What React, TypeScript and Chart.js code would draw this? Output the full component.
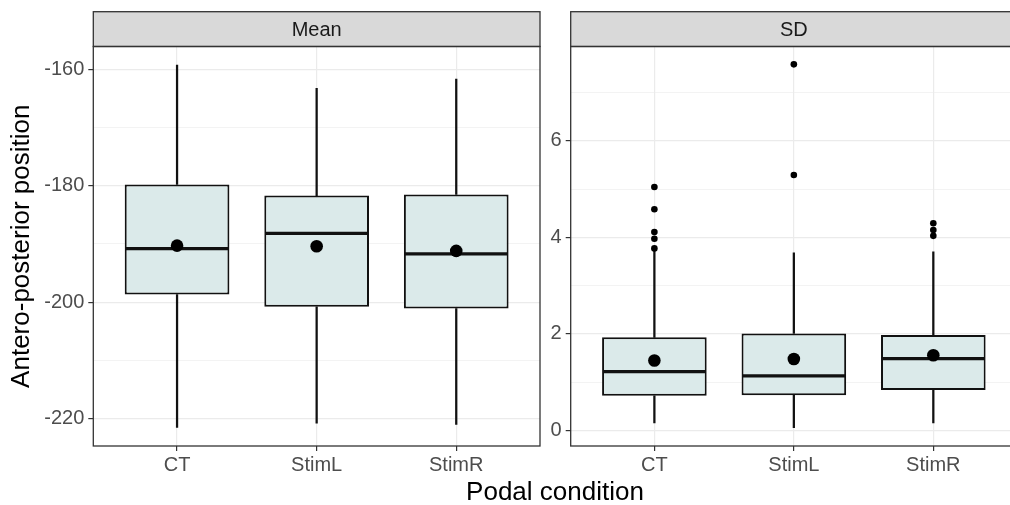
import React, { useEffect, useRef } from 'react';
import { Chart, registerables } from 'chart.js';

Chart.register(...registerables);

const FONT = "'Liberation Sans', Arial, Helvetica, sans-serif";

// ---------------- data ----------------
const categories = ['CT', 'StimL', 'StimR'];

// Facet "Mean"
const meanLowerWhisker = [-221.5, -220.8, -221.0];
const meanQ1 = [-198.7, -200.8, -201.1];
const meanMedian = [-190.8, -188.2, -191.7];
const meanQ3 = [-179.8, -181.7, -181.5];
const meanUpperWhisker = [-159.3, -163.3, -161.7];
const meanAverage = [-190.3, -190.4, -191.2];
const meanOutliers: number[][] = [[], [], []];
const meanMajorTicks = [-220, -200, -180, -160];
const meanMinorTicks = [-210, -190, -170];
const meanYRange = [-224.7, -156.1];

// Facet "SD"
const sdLowerWhisker = [0.16, 0.06, 0.16];
const sdQ1 = [0.72, 0.73, 0.84];
const sdMedian = [1.22, 1.13, 1.49];
const sdQ3 = [1.93, 2.01, 1.98];
const sdUpperWhisker = [3.74, 3.68, 3.7];
const sdAverage = [1.45, 1.48, 1.56];
const sdOutliers: number[][] = [
  [3.77, 3.97, 4.11, 4.58, 5.04],
  [5.29, 7.58],
  [4.03, 4.15, 4.29],
];
const sdMajorTicks = [0, 2, 4, 6];
const sdMinorTicks = [1, 3, 5, 7];
const sdYRange = [-0.32, 7.95];

const xRange = [-0.6, 2.6];
const BOX_WIDTH = 0.75;

const yTitle = 'Antero-posterior position';
const xTitle = 'Podal condition';

// ---------------- styling / layout ----------------
const BOX_FILL = '#DBEAEA';
const LINE = '#111111';
const GRID = '#EBEBEB';
const FRAME = '#333333';
const TICK_TEXT = '#4D4D4D';
const STRIP_TOP = 11.7;
const PANEL_TOP = 46.5;
const PANEL_BOTTOM = 446;
const CANVAS_H = 505;

interface Panel {
  label: string;
  lower: number[];
  q1: number[];
  median: number[];
  q3: number[];
  upper: number[];
  avg: number[];
  outliers: number[][];
  major: number[];
  minor: number[];
  yRange: number[];
  showTitle: boolean;
}

const panels: Panel[] = [
  {
    label: 'Mean', lower: meanLowerWhisker, q1: meanQ1, median: meanMedian, q3: meanQ3,
    upper: meanUpperWhisker, avg: meanAverage, outliers: meanOutliers,
    major: meanMajorTicks, minor: meanMinorTicks, yRange: meanYRange, showTitle: true,
  },
  {
    label: 'SD', lower: sdLowerWhisker, q1: sdQ1, median: sdMedian, q3: sdQ3,
    upper: sdUpperWhisker, avg: sdAverage, outliers: sdOutliers,
    major: sdMajorTicks, minor: sdMinorTicks, yRange: sdYRange, showTitle: false,
  },
];

const placements = [
  { left: 0, width: 552, yAxisWidth: 93.3, rightPad: 12 },
  { left: 540, width: 500, yAxisWidth: 30.7, rightPad: 23 },
];

function facetPlugin(label: string) {
  return {
    id: 'facet_' + label,
    afterDraw(chart: any) {
      const { ctx, chartArea: a } = chart;
      ctx.save();
      ctx.fillStyle = '#D9D9D9';
      ctx.fillRect(a.left, STRIP_TOP, a.right - a.left, a.top - STRIP_TOP);
      ctx.strokeStyle = FRAME;
      ctx.lineWidth = 1.3;
      ctx.strokeRect(a.left, STRIP_TOP, a.right - a.left, a.top - STRIP_TOP);
      ctx.strokeRect(a.left, a.top, a.right - a.left, a.bottom - a.top);
      ctx.fillStyle = '#1A1A1A';
      ctx.font = `20px ${FONT}`;
      ctx.textAlign = 'center';
      ctx.textBaseline = 'middle';
      ctx.fillText(label, (a.left + a.right) / 2, (STRIP_TOP + a.top) / 2 + 1);
      ctx.restore();
    },
  };
}

function buildConfig(p: Panel, pl: { yAxisWidth: number; rightPad: number }): any {
  const idx = categories.map((_, i) => i);
  const allTicks = [...p.major, ...p.minor].sort((a, b) => a - b);
  const isMajor = (v: number) => p.major.includes(v);
  const halfBox = (chart: any) => {
    const s = chart.scales.x;
    return Math.abs(s.getPixelForValue(BOX_WIDTH / 2) - s.getPixelForValue(0)) - 1;
  };
  return {
    type: 'bar',
    data: {
      datasets: [
        {
          type: 'bar', label: 'upper whisker', order: 6, grouped: false,
          data: idx.map((i) => ({ x: i, y: [p.q3[i], p.upper[i]] })),
          backgroundColor: LINE, borderWidth: 0, barThickness: 1.6,
        },
        {
          type: 'bar', label: 'lower whisker', order: 6, grouped: false,
          data: idx.map((i) => ({ x: i, y: [p.lower[i], p.q1[i]] })),
          backgroundColor: LINE, borderWidth: 0, barThickness: 1.6,
        },
        {
          type: 'bar', label: 'box', order: 5, grouped: false,
          data: idx.map((i) => ({ x: i, y: [p.q1[i], p.q3[i]] })),
          backgroundColor: BOX_FILL, borderColor: LINE, borderWidth: 2, borderSkipped: false,
          categoryPercentage: BOX_WIDTH, barPercentage: 1,
        },
        {
          type: 'scatter', label: 'median', order: 4,
          data: idx.map((i) => ({ x: i, y: p.median[i] })),
          pointStyle: 'line', pointRadius: (ctx: any) => halfBox(ctx.chart),
          pointBorderColor: LINE, pointBorderWidth: 3.2, pointBackgroundColor: LINE,
        },
        {
          type: 'scatter', label: 'mean', order: 3,
          data: idx.map((i) => ({ x: i, y: p.avg[i] })),
          pointRadius: 6.3, pointBackgroundColor: '#000', pointBorderWidth: 0,
        },
        {
          type: 'scatter', label: 'outliers', order: 2,
          data: p.outliers.flatMap((vals, i) => vals.map((v) => ({ x: i, y: v }))),
          pointRadius: 3.3, pointBackgroundColor: '#000', pointBorderWidth: 0,
        },
      ],
    },
    options: {
      responsive: false,
      animation: false,
      events: [],
      layout: { padding: { top: PANEL_TOP, right: pl.rightPad, bottom: 0, left: 0 } },
      plugins: { legend: { display: false }, tooltip: { enabled: false } },
      scales: {
        x: {
          type: 'linear',
          min: xRange[0],
          max: xRange[1],
          offset: false,
          afterBuildTicks: (scale: any) => {
            scale.ticks = idx.map((i) => ({ value: i }));
          },
          afterFit: (scale: any) => {
            scale.height = CANVAS_H - PANEL_BOTTOM;
          },
          ticks: {
            autoSkip: false,
            maxRotation: 0,
            padding: 2,
            color: TICK_TEXT,
            font: { size: 20, family: FONT },
            callback: (v: number) => categories[v] ?? '',
          },
          grid: { color: GRID, lineWidth: 1.2, offset: false, tickColor: FRAME, tickLength: 5, tickWidth: 1.2 },
          border: { display: false },
        },
        y: {
          type: 'linear',
          min: p.yRange[0],
          max: p.yRange[1],
          afterBuildTicks: (scale: any) => {
            scale.ticks = allTicks.map((v) => ({ value: v }));
          },
          afterFit: (scale: any) => {
            scale.width = pl.yAxisWidth;
          },
          ticks: {
            autoSkip: false,
            padding: 4,
            color: TICK_TEXT,
            font: { size: 20, family: FONT },
            callback: (v: number) => (isMajor(v) ? String(v) : ''),
          },
          grid: {
            color: GRID,
            lineWidth: (ctx: any) => (ctx.tick && isMajor(ctx.tick.value) ? 1.2 : 0.6),
            tickColor: (ctx: any) => (ctx.tick && isMajor(ctx.tick.value) ? FRAME : 'rgba(0,0,0,0)'),
            tickLength: 5,
            tickWidth: 1.2,
          },
          border: { display: false },
          title: {
            display: p.showTitle,
            text: yTitle,
            color: '#000000',
            font: { size: 26, family: FONT },
            padding: { top: 6, bottom: 0 },
          },
        },
      },
    },
    plugins: [facetPlugin(p.label)],
  };
}

function FacetChart({ panel, index }: { panel: Panel; index: number }) {
  const ref = useRef<HTMLCanvasElement | null>(null);
  const pl = placements[index];
  useEffect(() => {
    if (!ref.current) return;
    const chart = new Chart(ref.current, buildConfig(panel, pl));
    return () => chart.destroy();
  }, []);
  return (
    <canvas
      ref={ref}
      width={pl.width}
      height={CANVAS_H}
      style={{ position: 'absolute', left: pl.left, top: 0, width: pl.width, height: CANVAS_H, display: 'block' }}
    />
  );
}

export default function App() {
  return (
    <div
      style={{
        position: 'fixed', left: 0, top: 0, width: 1010, height: 505,
        overflow: 'hidden', background: '#ffffff',
      }}
    >
      {panels.map((p, i) => (
        <FacetChart key={p.label} panel={p} index={i} />
      ))}
      <div
        style={{
          position: 'absolute', left: 555, top: 478, transform: 'translateX(-50%)',
          font: `26px ${FONT}`, lineHeight: '26px', color: '#000', whiteSpace: 'nowrap',
        }}
      >
        {xTitle}
      </div>
    </div>
  );
}
